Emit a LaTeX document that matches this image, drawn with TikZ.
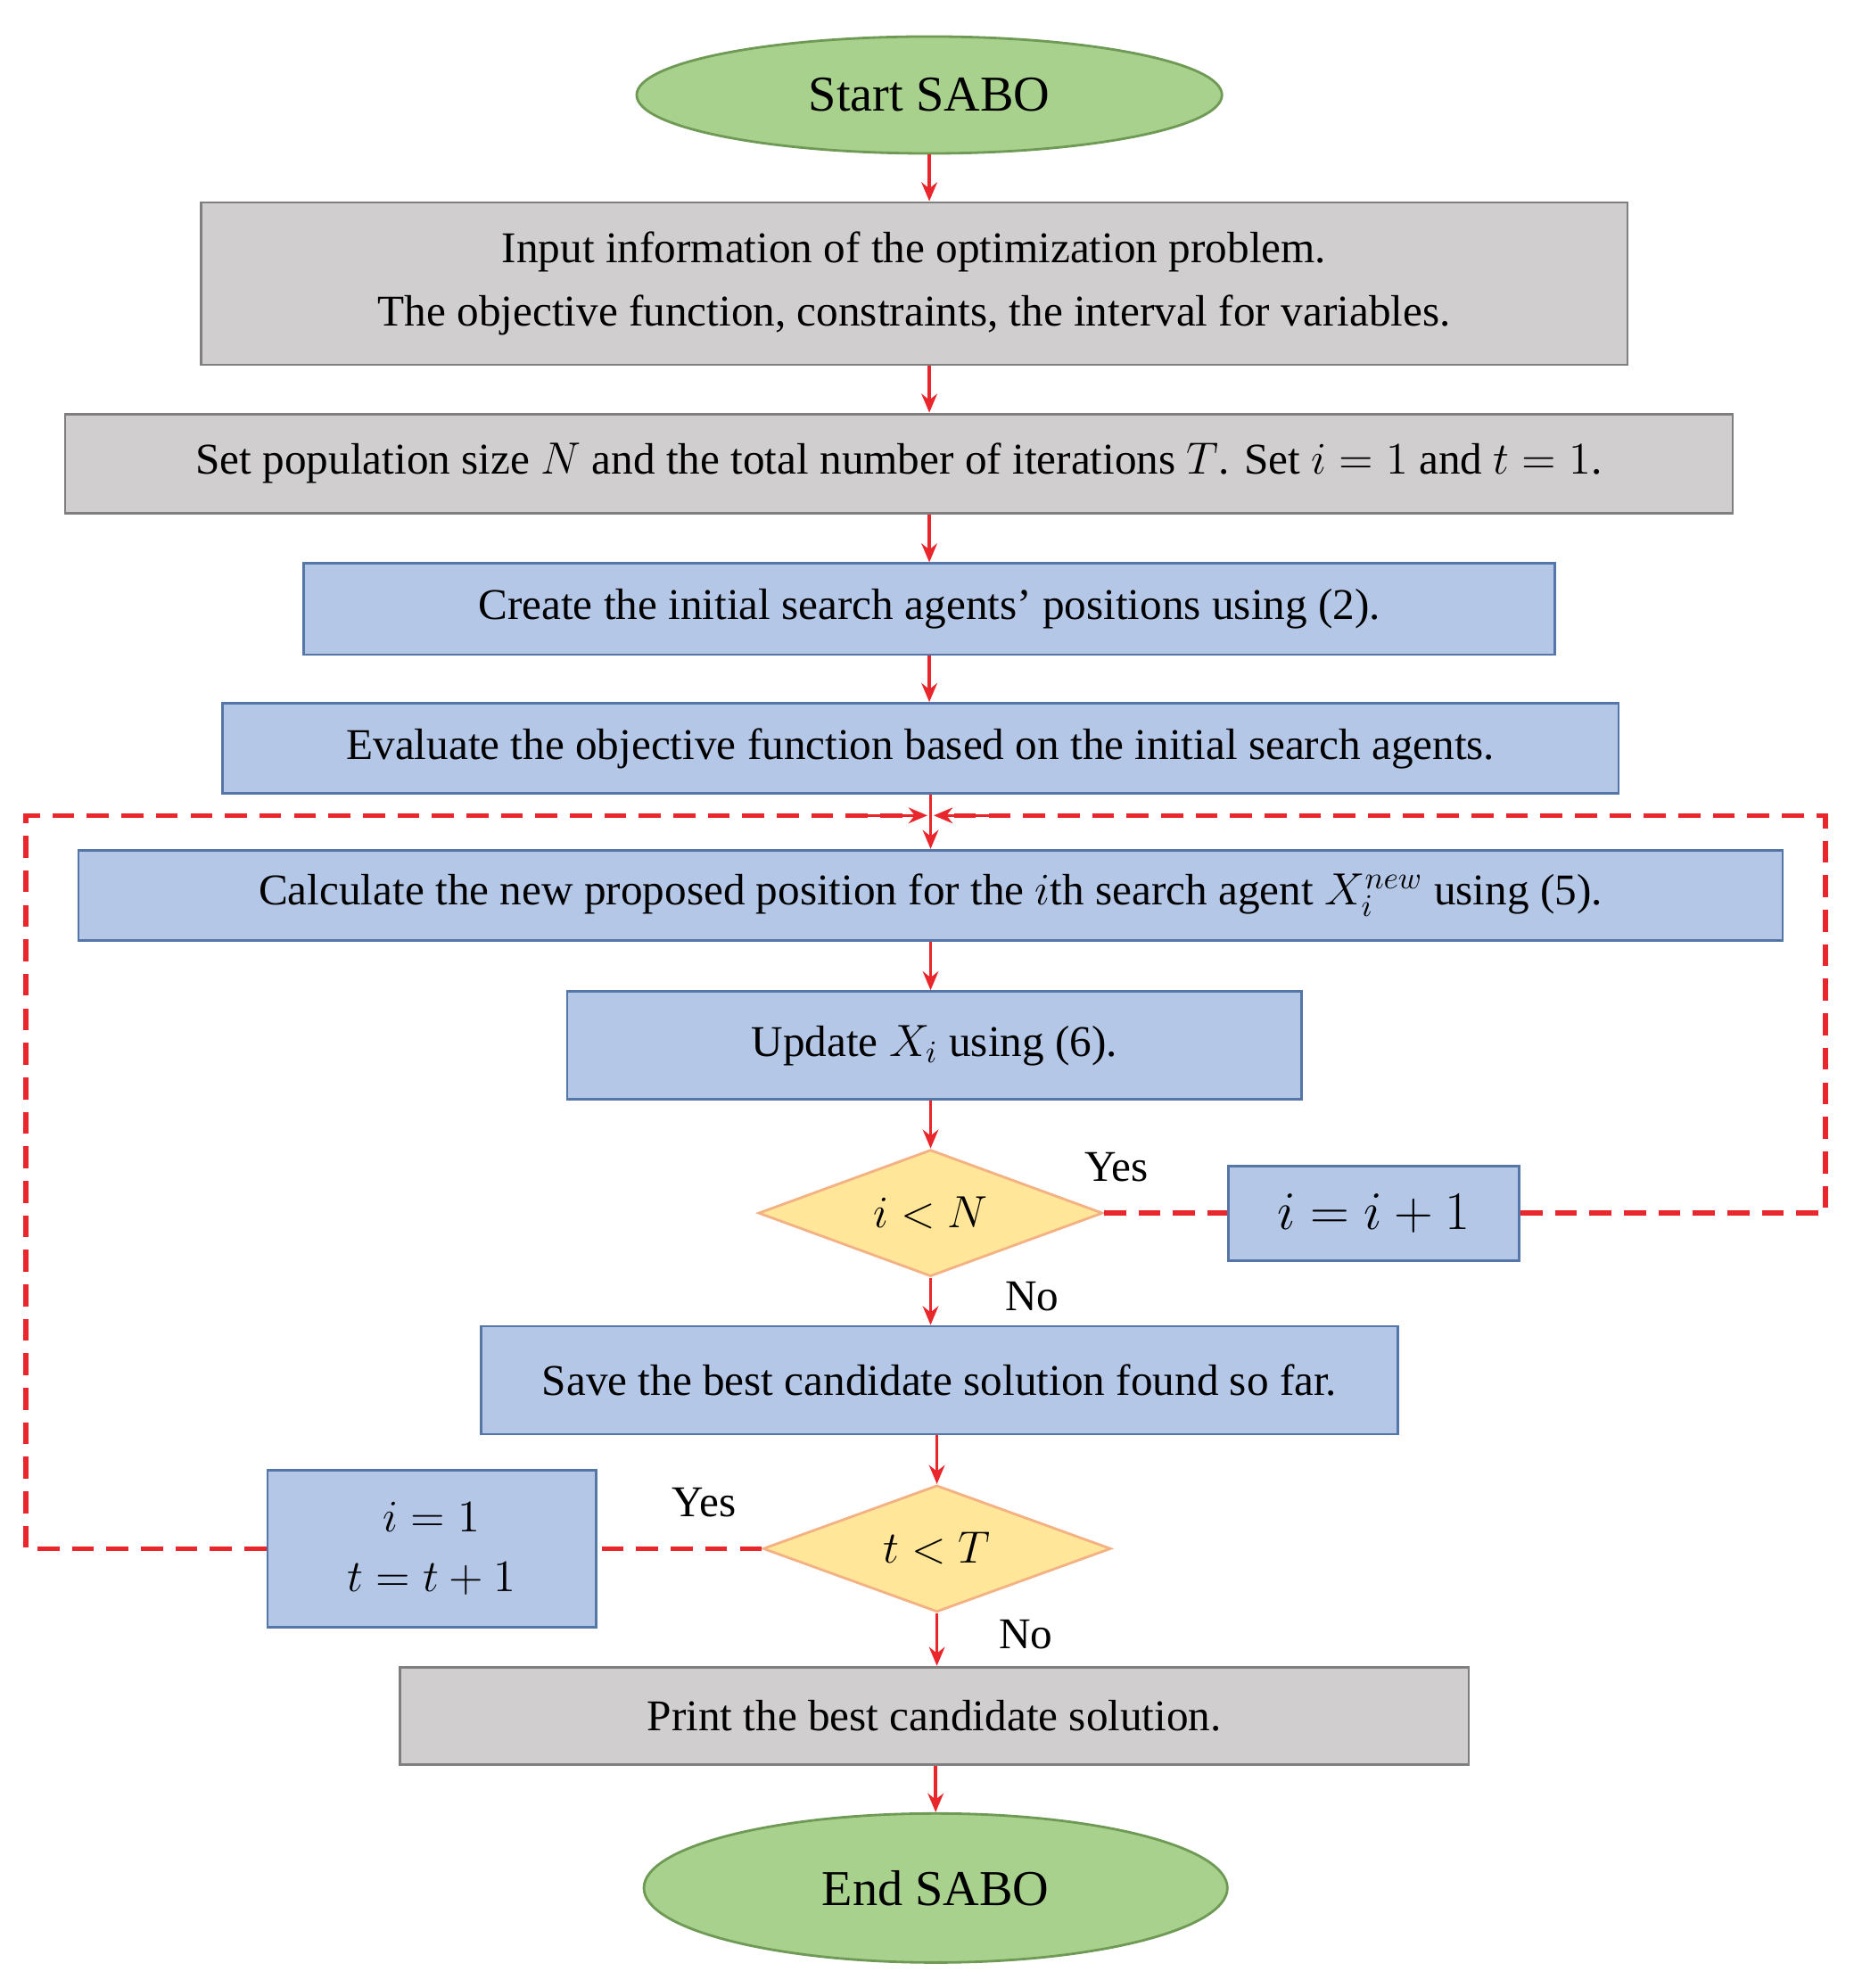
\documentclass[tikz,border=0pt]{standalone}
\usepackage{fontspec}
\setmainfont{Liberation Serif}
\usetikzlibrary{shapes.geometric,arrows.meta}
\definecolor{termfill}{HTML}{A9D18E}
\definecolor{termdraw}{HTML}{6F9A55}
\definecolor{grayfill}{HTML}{D0CECE}
\definecolor{graydraw}{HTML}{7F7F7F}
\definecolor{bluefill}{HTML}{B4C7E7}
\definecolor{bluedraw}{HTML}{5577A8}
\definecolor{decfill}{HTML}{FFE699}
\definecolor{decdraw}{HTML}{F4B183}
\definecolor{flowred}{HTML}{E8262B}
\tikzset{
  term/.style={ellipse,draw=termdraw,fill=termfill,line width=0.8pt,font=\fontsize{16}{19}\selectfont},
  grybox/.style={rectangle,draw=graydraw,fill=grayfill,line width=0.8pt,align=center,font=\fontsize{14}{20}\selectfont},
  blubox/.style={rectangle,draw=bluedraw,fill=bluefill,line width=0.8pt,align=center,font=\fontsize{14}{18}\selectfont},
  decide/.style={diamond,aspect=2.7,inner sep=0pt,draw=decdraw,fill=decfill,line width=0.8pt,font=\fontsize{14}{17}\selectfont},
  flow/.style={draw=flowred,line width=1pt,-{Stealth[length=6pt,width=5pt]}},
  loop/.style={draw=flowred,line width=1.6pt,dash pattern=on 7pt off 4pt},
  tag/.style={font=\fontsize{14}{16}\selectfont}
}
\begin{document}
\begin{tikzpicture}[x=0.01419cm,y=-0.01419cm]
\useasboundingbox (0,0) rectangle (1464,1570);

% main column
\node[term,minimum width=6.56cm,minimum height=1.31cm] (start) at (734,75) {Start SABO};
\node[grybox,minimum width=15.99cm,minimum height=1.82cm] (input) at (722,224)
  {Input information of the optimization problem.\\The objective function, constraints, the interval for variables.};
\node[grybox,minimum width=18.69cm,minimum height=1.11cm] (setup) at (710,366)
  {Set population size $N$ and the total number of iterations $T$. Set $i=1$ and $t=1$.};
\node[blubox,minimum width=14.02cm,minimum height=1.02cm] (init) at (734,481)
  {Create the initial search agents' positions using (2).};
\node[blubox,minimum width=15.65cm,minimum height=1.01cm] (eval) at (727,591)
  {Evaluate the objective function based on the initial search agents.};
\coordinate (merge) at (735,644);
\node[blubox,minimum width=19.10cm,minimum height=1.01cm] (calc) at (735,707)
  {Calculate the new proposed position for the $i$th search agent $X_i^{new}$ using (5).};
\node[blubox,minimum width=8.23cm,minimum height=1.21cm,anchor=north] (upd) at (738,782)
  {Update $X_i$ using (6).};
\node[decide,minimum width=3.86cm,minimum height=1.42cm] (chki) at (735,958) {$i<N$};
\node[blubox,minimum width=3.26cm,minimum height=1.06cm,font=\fontsize{16}{18}\selectfont] (inci) at (1085,958) {$i=i+1$};
\node[blubox,minimum width=10.27cm,minimum height=1.21cm] (save) at (742,1090)
  {Save the best candidate solution found so far.};
\node[decide,minimum width=3.90cm,minimum height=1.42cm] (chkt) at (740,1223) {$t<T$};
\node[blubox,minimum width=3.68cm,minimum height=1.76cm,font=\fontsize{15}{19}\selectfont] (inct) at (341,1223) {$i=1$\\$t=t+1$};
\node[grybox,minimum width=11.98cm,minimum height=1.09cm] (print) at (738,1355)
  {Print the best candidate solution.};
\node[term,minimum width=6.54cm,minimum height=1.67cm] (stop) at (739,1491) {End SABO};

% arrows
\draw[flow] (start) -- (start |- input.north);
\draw[flow] (input.south -| start) -- (start |- setup.north);
\draw[flow] (setup.south -| start) -- (start |- init.north);
\draw[flow] (init.south -| start) -- (start |- eval.north);
\draw[flow] (eval.south -| merge) -- (merge |- calc.north);
\draw[flow] (calc.south -| merge) -- (merge |- upd.north);
\draw[flow] (upd.south -| merge) -- (chki.north);
\draw[flow] (chki.south) -- (chki.south |- save.north) node[pos=0.4,right,tag,xshift=20] {No};
\draw[flow] (save.south -| chkt) -- (chkt.north);
\draw[flow] (chkt.south) -- (chkt.south |- print.north) node[pos=0.4,right,tag,xshift=16] {No};
\draw[flow] (print.south -| stop) -- (stop.north);

% dashed loops
\draw[loop] (chki.east) -- (chki.east -| inci.west) node[pos=0.1,above,tag,yshift=6,draw=none] {Yes};
\draw[loop] (inci.east) -- ++(241,0) coordinate (rgt) -- (rgt |- merge) -- ([xshift=6]merge);
\draw[flow] ([xshift=20]merge) -- ([xshift=1]merge);
\draw[loop] (chkt.west) -- (chkt.west -| inct.east) node[pos=0.35,above,tag,yshift=6,draw=none] {Yes};
\draw[loop] (inct.west) -- ++(-190,0) coordinate (lft) -- (lft |- merge) -- ([xshift=-6]merge);
\draw[flow] ([xshift=-20]merge) -- ([xshift=-1]merge);
\end{tikzpicture}
\end{document}
